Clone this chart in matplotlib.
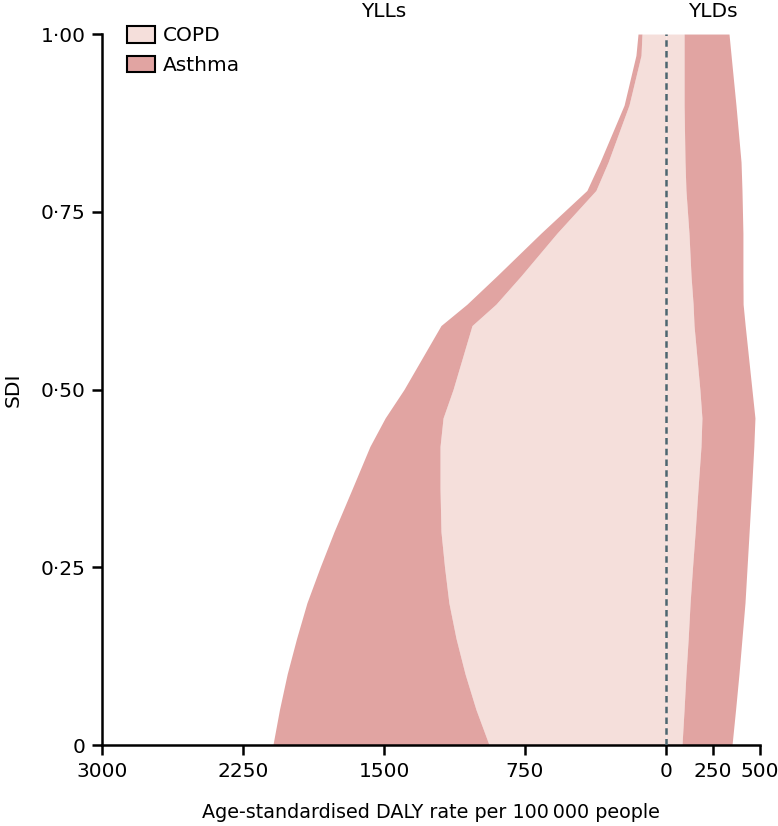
import matplotlib.pyplot as plt
import numpy as np
from matplotlib.patches import Patch

# SDI levels and age-standardised DALY rates (per 100 000)
sdi = [0.0, 0.05, 0.1, 0.15, 0.2, 0.25, 0.3, 0.36, 0.42, 0.46, 0.5,
       0.59, 0.62, 0.66, 0.72, 0.78, 0.82, 0.9, 0.97, 1.0]

copd_yll = [941, 1011, 1069, 1117, 1155, 1178, 1197, 1202, 1202, 1186, 1133,
            1032, 905, 771, 580, 373, 308, 197, 133, 128]
asthma_yll = [1150, 1045, 946, 848, 755, 662, 569, 468, 373, 308, 261,
              165, 154, 128, 85, 48, 43, 26, 27, 21]

copd_yld = [85, 96, 106, 118, 128, 141, 155, 170, 186, 191, 180,
            149, 144, 133, 122, 106, 101, 96, 96, 96]
asthma_yld = [266, 274, 282, 286, 292, 290, 287, 285, 281, 282, 277,
              272, 266, 276, 287, 298, 298, 276, 250, 239]

xticks = [-3000, -2250, -1500, -750, 0, 250, 500]
xtick_labels = ["3000", "2250", "1500", "750", "0", "250", "500"]
yticks = [0, 0.25, 0.5, 0.75, 1.0]
ytick_labels = ["0", "0\u00b725", "0\u00b750", "0\u00b775", "1\u00b700"]

COPD_COLOUR = "#f5dfdb"
ASTHMA_COLOUR = "#e1a4a2"
FS = 14.5

plt.rcParams["font.family"] = ["DejaVu Sans"]

fig = plt.figure(figsize=(7.78, 8.26), dpi=100)
ax = fig.add_axes([0.1311, 0.098, 0.9769 - 0.1311, 0.9588 - 0.098])

sdi = np.array(sdi)
copd_yll = np.array(copd_yll)
asthma_yll = np.array(asthma_yll)
copd_yld = np.array(copd_yld)
asthma_yld = np.array(asthma_yld)

# YLLs go to the left (negative), YLDs to the right
ax.fill_betweenx(sdi, -copd_yll, 0, color=COPD_COLOUR, lw=0)
ax.fill_betweenx(sdi, -(copd_yll + asthma_yll), -copd_yll, color=ASTHMA_COLOUR, lw=0)
ax.fill_betweenx(sdi, 0, copd_yld, color=COPD_COLOUR, lw=0)
ax.fill_betweenx(sdi, copd_yld, copd_yld + asthma_yld, color=ASTHMA_COLOUR, lw=0)

ax.axvline(0, color="#4d6670", lw=1.8, linestyle=(0, (2.6, 1.7)), zorder=3)

ax.set_xlim(-3000, 500)
ax.set_ylim(0, 1)
ax.set_xticks(xticks)
ax.set_xticklabels(xtick_labels)
ax.set_yticks(yticks)
ax.set_yticklabels(ytick_labels)

for side in ["top", "right"]:
    ax.spines[side].set_visible(False)
for side in ["left", "bottom"]:
    ax.spines[side].set_linewidth(1.8)
ax.tick_params(length=7, width=1.8, labelsize=FS, pad=5)

ax.set_xlabel("Age-standardised DALY rate per 100\u2009000 people", fontsize=13.8, labelpad=16)
ax.set_ylabel("SDI", fontsize=FS, labelpad=13)

ax.text(-1500, 1.031, "YLLs", transform=ax.get_xaxis_transform(), ha="center", va="center", fontsize=FS)
ax.text(250, 1.031, "YLDs", transform=ax.get_xaxis_transform(), ha="center", va="center", fontsize=FS)

handles = [
    Patch(facecolor=COPD_COLOUR, edgecolor="black", lw=1.5, label="COPD"),
    Patch(facecolor=ASTHMA_COLOUR, edgecolor="black", lw=1.5, label="Asthma"),
]
ax.legend(handles=handles, loc="upper left", bbox_to_anchor=(0.026, 1.022), frameon=False,
          fontsize=FS, handlelength=1.39, handleheight=0.85, handletextpad=0.4, labelspacing=0.5,
          borderaxespad=0)

fig.savefig("out.png", dpi=100)
